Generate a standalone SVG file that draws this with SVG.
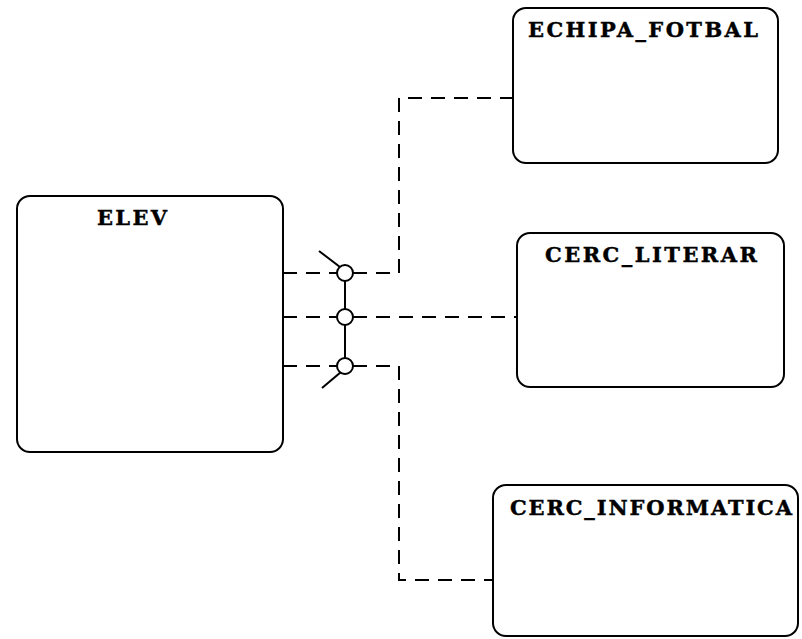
<svg xmlns="http://www.w3.org/2000/svg" width="802" height="639" viewBox="0 0 802 639">
<style>
.box{fill:#fff;stroke:#000;stroke-width:2}
.lbl{font-family:"DejaVu Serif","Liberation Serif",serif;font-weight:bold;font-size:21px;fill:#000;stroke:#000;stroke-width:0.4}
.dash{fill:none;stroke:#000;stroke-width:2;stroke-dasharray:14 9}
.solid{fill:none;stroke:#000;stroke-width:2}
.circ{fill:#fff;stroke:#000;stroke-width:2}
</style>
<rect width="802" height="639" fill="#fff"/>
<g id="connectors">
<path class="dash" d="M283 273 H337"/>
<path class="dash" d="M353 273 H399 V98 H513"/>
<path class="dash" d="M283 317 H337"/>
<path class="dash" d="M353 317 H517"/>
<path class="dash" d="M283 366 H337"/>
<path class="dash" d="M353 366 H399 V580 H493"/>
<path class="solid" d="M345 273 V366"/>
<path class="solid" d="M319 251 L340 267"/>
<path class="solid" d="M322 388 L341 372"/>
<circle class="circ" cx="345" cy="273" r="8"/>
<circle class="circ" cx="345" cy="317" r="8"/>
<circle class="circ" cx="345" cy="366" r="8"/>
</g>
<g id="elev">
<rect class="box" x="17" y="196" width="266" height="256" rx="13"/>
<text class="lbl" x="97" y="225" textLength="70" lengthAdjust="spacing">ELEV</text>
</g>
<g id="echipa_fotbal">
<rect class="box" x="513" y="8" width="265" height="155" rx="13"/>
<text class="lbl" x="528" y="37" textLength="230" lengthAdjust="spacing">ECHIPA_FOTBAL</text>
</g>
<g id="cerc_literar">
<rect class="box" x="517" y="233" width="267" height="154" rx="13"/>
<text class="lbl" x="545" y="262" textLength="212" lengthAdjust="spacing">CERC_LITERAR</text>
</g>
<g id="cerc_informatica">
<rect class="box" x="493" y="485" width="305" height="151" rx="13"/>
<text class="lbl" x="510" y="515" textLength="282" lengthAdjust="spacing">CERC_INFORMATICA</text>
</g>
</svg>
